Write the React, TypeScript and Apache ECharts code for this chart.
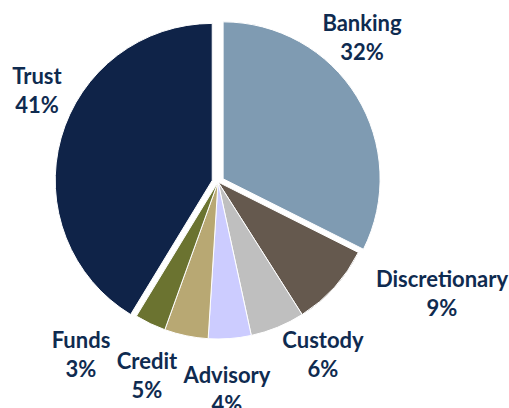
import React, { useEffect, useRef } from "react";
import * as echarts from "echarts";

const categories = ["Banking", "Discretionary", "Custody", "Advisory", "Credit", "Funds", "Trust"];
// shares (labels show them rounded)
const shares = [32.4, 8.6, 5.6, 4.4, 4.5, 3.2, 41.3];
const exploded = ["Banking", "Trust"];
const sliceColors = ["#7F9BB2", "#65594E", "#BFBFBF", "#CCCCFF", "#B8A873", "#6B7330", "#0F2348"];

// label block centres (layout only)
const labelCentres: [number, number][] = [
  [362, 37],
  [442, 293],
  [323, 354],
  [227, 389],
  [147, 375],
  [81, 354],
  [37, 90],
];

export default function App() {
  const ref = useRef<HTMLDivElement>(null);
  useEffect(() => {
    if (!ref.current) return;
    const chart = echarts.init(ref.current, null, { renderer: "svg" });
    chart.setOption({
      animation: false,
      graphic: categories.map((name, i) => ({
        type: "text",
        x: labelCentres[i][0],
        y: labelCentres[i][1],
        silent: true,
        style: {
          text: `${name}\n${Math.round(shares[i])}%`,
          fontFamily: "Lato",
          fontWeight: "bold",
          fontSize: 22,
          lineHeight: 29,
          fill: "#0F2B50",
          align: "center",
          verticalAlign: "middle",
        },
      })),
      series: [
        {
          type: "pie",
          center: [218, 182],
          radius: 157,
          startAngle: 90,
          clockwise: true,
          selectedMode: "multiple",
          selectedOffset: 6,
          avoidLabelOverlap: false,
          emphasis: { disabled: true },
          itemStyle: { borderColor: "#FFFFFF", borderWidth: 1 },
          label: { show: false },
          labelLine: { show: false },
          data: categories.map((name, i) => ({
            name,
            value: shares[i],
            selected: exploded.includes(name),
            itemStyle: { color: sliceColors[i] },
          })),
        },
      ],
    });
    return () => chart.dispose();
  }, []);
  return (
    <div
      ref={ref}
      style={{ position: "absolute", left: 0, top: 0, width: 509, height: 408 }}
    />
  );
}
